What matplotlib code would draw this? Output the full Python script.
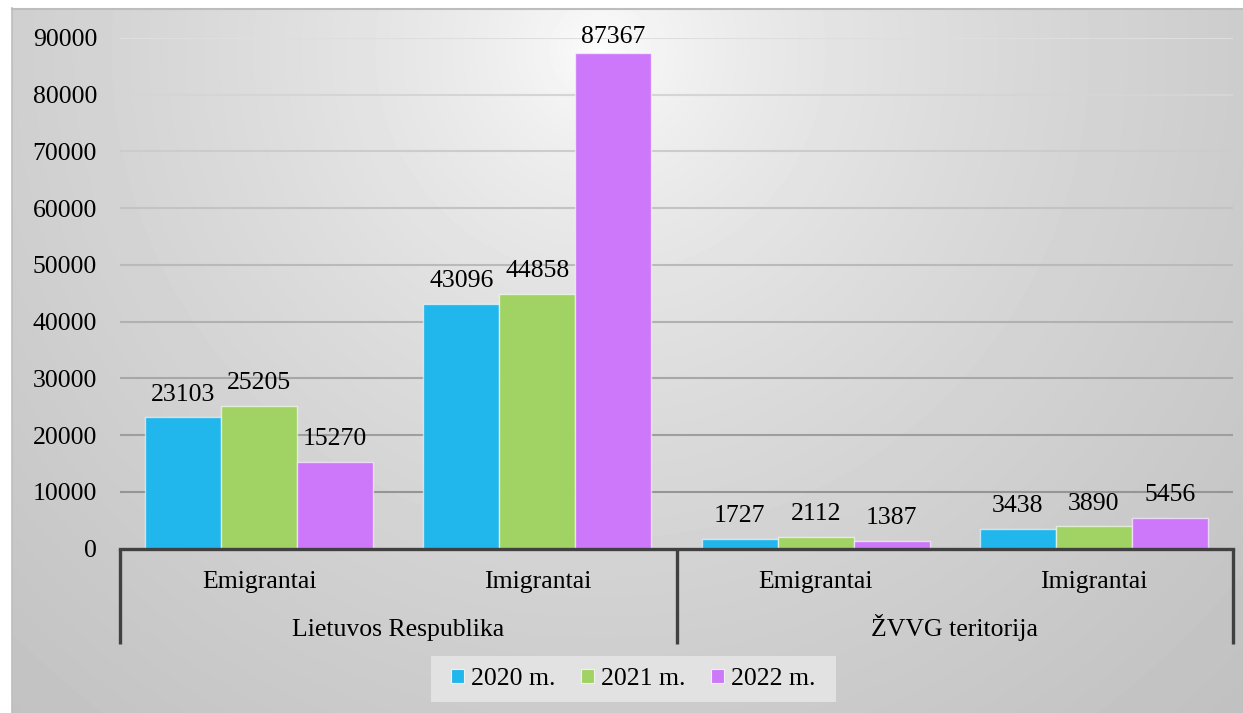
import numpy as np
import matplotlib.pyplot as plt
from matplotlib.patches import Rectangle, Patch

plt.rcParams['font.family'] = ['Liberation Serif', 'DejaVu Serif']

# ── Data ──────────────────────────────────────────────────────────────────
groups      = ["Lietuvos Respublika", "ŽVVG teritorija"]
categories  = ["Emigrantai", "Imigrantai", "Emigrantai", "Imigrantai"]
years       = ["2020 m.", "2021 m.", "2022 m."]
values_2020 = [23103, 43096, 1727, 3438]
values_2021 = [25205, 44858, 2112, 3890]
values_2022 = [15270, 87367, 1387, 5456]
y_ticks     = [0, 10000, 20000, 30000, 40000, 50000, 60000, 70000, 80000, 90000]

series = [values_2020, values_2021, values_2022]
colors = ["#21b6ec", "#a0d264", "#cd78fa"]
FS = 18.5

W, H = 1243, 713
fig = plt.figure(figsize=(W / 100, H / 100), dpi=100)
fig.patch.set_facecolor("white")

# ── Background: radial grey gradient of the chart area ────────────────────
bg = fig.add_axes([0, 0, 1, 1], zorder=-10)
xx, yy = np.meshgrid(np.arange(W), np.arange(H))
d = np.hypot(xx - 600, yy - 50)
shade = 1 - 0.24 * (d / 886) ** 0.6
shade[:, :12] = 1.0
shade[:8, :] = 1.0
bg.imshow(shade, cmap="gray", vmin=0, vmax=1, extent=[0, W, H, 0],
          aspect="auto", interpolation="bilinear")
bg.plot([12.5, 12.5], [8, H], color="#bdbdbd", lw=1.2)
bg.plot([12, W], [8.5, 8.5], color="#bdbdbd", lw=1.5)
# legend panel
bg.add_patch(Rectangle((431, 656), 405, 46, facecolor="#e2e2e2", edgecolor="none"))
bg.set_xlim(0, W)
bg.set_ylim(H, 0)
bg.axis("off")

# ── Plot area ─────────────────────────────────────────────────────────────
ax = fig.add_axes([120 / W, 1 - 548.5 / H, 1113 / W, 510.5 / H])
ax.patch.set_alpha(0)
for s in ax.spines.values():
    s.set_visible(False)

x = np.arange(len(categories))
width = 0.273
for i, (vals, c) in enumerate(zip(series, colors)):
    pos = x + (i - 1) * width
    ax.bar(pos, vals, width, color=c, edgecolor=(1, 1, 1, 0.6), lw=1, zorder=2)
    for px, v in zip(pos, vals):
        # Excel nudges labels down so they stay inside the chart area
        ax.annotate(str(v), (px, min(v, 86100)), xytext=(0, 12),
                    textcoords="offset points", ha="center", va="baseline",
                    fontsize=FS, color="black", zorder=4)

for t in y_ticks[1:]:
    g = 0.55 + 0.32 * t / 90000
    ax.axhline(t, color=(g, g, g), lw=1.5, zorder=1)
ax.axhline(0, color="#404040", lw=2.4, zorder=3, clip_on=False)

ax.set_xlim(-0.5, 3.5)
ax.set_ylim(0, 90000)
ax.set_yticks(y_ticks)
ax.set_yticklabels([str(t) for t in y_ticks], fontsize=FS)
ax.tick_params(axis="y", length=0, pad=16.5)
ax.set_xticks([])

# ── Two-level category axis ───────────────────────────────────────────────
tr = ax.get_xaxis_transform()
for sx in [-0.5, 1.5, 3.5]:
    ax.plot([sx, sx], [0, -95 / 510.5], color="#404040", lw=2.4,
            transform=tr, clip_on=False, solid_capstyle="butt")
for xi, cat in zip(x, categories):
    ax.text(xi, -39.5 / 510.5, cat, transform=tr, ha="center", va="baseline",
            fontsize=FS)
for gi, grp in enumerate(groups):
    ax.text(0.5 + 2 * gi, -87.5 / 510.5, grp, transform=tr, ha="center",
            va="baseline", fontsize=FS)

# ── Legend ────────────────────────────────────────────────────────────────
handles = [Patch(facecolor=c, edgecolor="#f0f0f0", lw=0.8) for c in colors]
fig.legend(handles, years, loc="center", bbox_to_anchor=(633.5 / W, 1 - 679 / H),
           frameon=False, ncol=3, handlelength=0.5, handleheight=0.5,
           handletextpad=0.27, columnspacing=1.0, fontsize=FS)

fig.savefig("out.png", dpi=100, facecolor=fig.get_facecolor())
